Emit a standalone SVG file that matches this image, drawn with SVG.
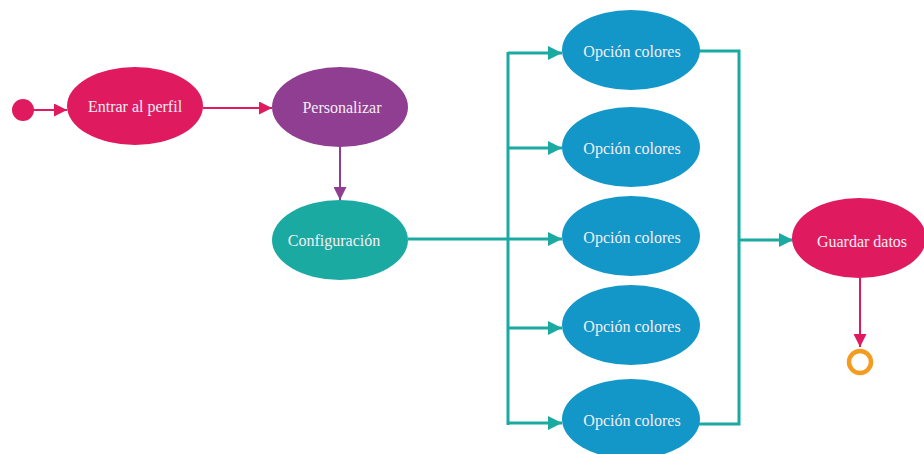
<svg xmlns="http://www.w3.org/2000/svg" width="924" height="454" viewBox="0 0 924 454">
<style>
text{font-size:16px;fill:#f4eef4;text-anchor:middle}
.pk{fill:#e01a5f}.pu{fill:#8f3e91}.te{fill:#1aaaa2}.bl{fill:#1297c8}
.lp{stroke:#e01a5f;stroke-width:2;fill:none}
.lu{stroke:#8f3e91;stroke-width:2;fill:none}
.lt{stroke:#1aaaa2;stroke-width:3;fill:none}
</style>
<defs>
<marker id="ap" markerWidth="13" markerHeight="13" refX="13" refY="6.5" orient="auto" markerUnits="userSpaceOnUse"><path d="M0,0L13,6.5L0,13z" fill="#e01a5f"/></marker>
<marker id="au" markerWidth="13" markerHeight="13" refX="13" refY="6.5" orient="auto" markerUnits="userSpaceOnUse"><path d="M0,0L13,6.5L0,13z" fill="#8f3e91"/></marker>
<marker id="at" markerWidth="14" markerHeight="14" refX="14" refY="7" orient="auto" markerUnits="userSpaceOnUse"><path d="M0,0L14,7L0,14z" fill="#1aaaa2"/></marker>
</defs>
<g id="connectors">
<path class="lp" d="M34,110H67" marker-end="url(#ap)"/>
<path class="lp" d="M203,108H272" marker-end="url(#ap)"/>
<path class="lu" d="M340,147V200" marker-end="url(#au)"/>
<path class="lt" d="M408,239H562" marker-end="url(#at)"/>
<path class="lt" d="M508,52V425"/>
<path class="lt" d="M508,53H562" marker-end="url(#at)"/>
<path class="lt" d="M508,148H562" marker-end="url(#at)"/>
<path class="lt" d="M508,328H562" marker-end="url(#at)"/>
<path class="lt" d="M508,423H562" marker-end="url(#at)"/>
<path class="lt" d="M698,51H739V424H698"/>
<path class="lt" d="M739,240H793" marker-end="url(#at)"/>
<path class="lp" d="M860,278V347" marker-end="url(#ap)"/>
</g>
<g font-family="Liberation Serif, serif">
<g id="start"><circle cx="23" cy="110" r="11" class="pk"/></g>
<g id="entrar"><ellipse cx="135" cy="106" rx="68" ry="39" class="pk"/><text x="135" y="112">Entrar al perfil</text></g>
<g id="personalizar"><ellipse cx="340" cy="107" rx="68" ry="40" class="pu"/><text x="342" y="113">Personalizar</text></g>
<g id="configuracion"><ellipse cx="340" cy="240" rx="68" ry="40" class="te"/><text x="334" y="246">Configuración</text></g>
<g id="opcion1"><ellipse cx="631" cy="50" rx="69" ry="40" class="bl"/><text x="632" y="57">Opción colores</text></g>
<g id="opcion2"><ellipse cx="631" cy="147" rx="69" ry="40" class="bl"/><text x="632" y="154">Opción colores</text></g>
<g id="opcion3"><ellipse cx="631" cy="236" rx="69" ry="40" class="bl"/><text x="632" y="243">Opción colores</text></g>
<g id="opcion4"><ellipse cx="631" cy="325" rx="69" ry="40" class="bl"/><text x="632" y="332">Opción colores</text></g>
<g id="opcion5"><ellipse cx="631" cy="419" rx="69" ry="40" class="bl"/><text x="632" y="426">Opción colores</text></g>
<g id="guardar"><ellipse cx="859" cy="238" rx="67" ry="40" class="pk"/><text x="862" y="247">Guardar datos</text></g>
<g id="end"><circle cx="860" cy="362" r="11" fill="none" stroke="#f39c1f" stroke-width="4.5"/></g>
</g>
</svg>
